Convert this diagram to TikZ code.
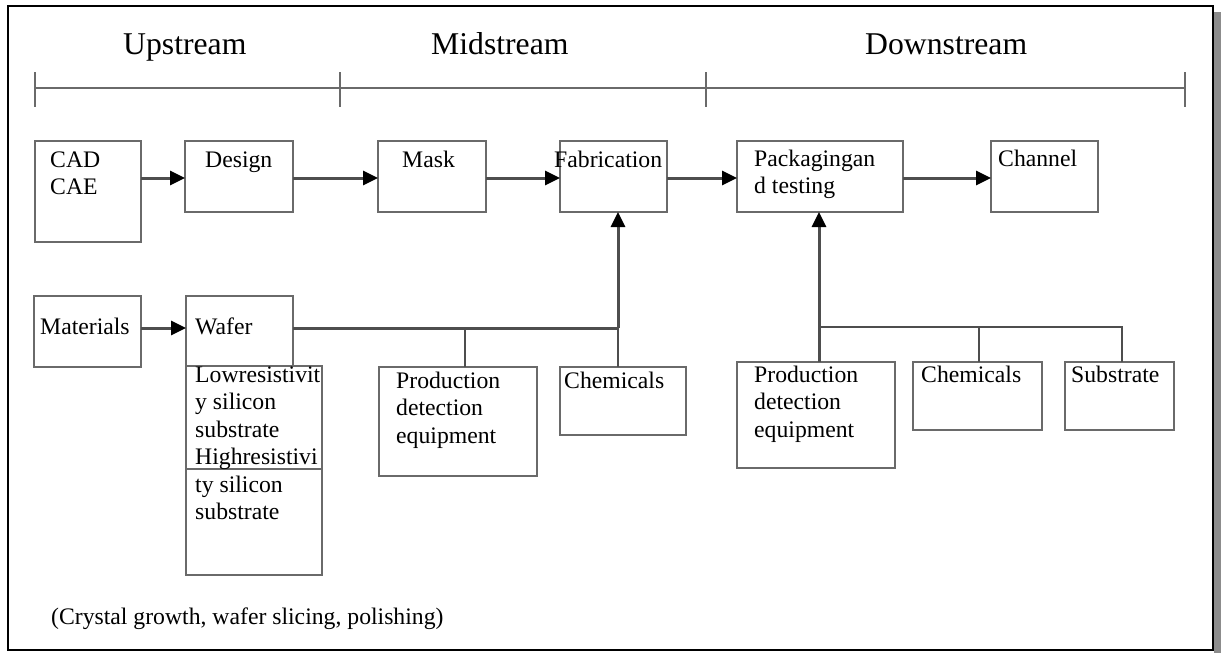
\documentclass[tikz,border=0pt]{standalone}
\usepackage{fontspec}
\setmainfont{Liberation Serif}
\usetikzlibrary{arrows.meta}
\definecolor{boxgray}{HTML}{6A6A6A}
\definecolor{linegray}{HTML}{4E4E4E}
\definecolor{shadowgray}{HTML}{8C8C8C}
\newcommand\lines[1]{\vtop{\halign{##\hfil\cr#1\crcr}}}
\begin{document}
\begin{tikzpicture}[x=1pt,y=-1pt,
  box/.style={draw=boxgray,line width=2.6pt,rectangle,inner sep=0pt,outer sep=0pt,anchor=north west},
  txt/.style={inner sep=0pt,anchor=base west,font=\fontsize{23.7}{27.5}\selectfont},
  head/.style={inner sep=0pt,anchor=base west,font=\fontsize{31.7}{36}\selectfont},
  conn/.style={draw=linegray,line width=3pt},
  arr/.style={conn,-{Triangle[length=15pt,width=14pt,color=black]}},
  axis/.style={draw=boxgray,line width=2.6pt}]
\useasboundingbox (0,0) rectangle (1221,653);
% frame and shadow
\fill[shadowgray] (1214,12) rectangle (1221,653);
\draw[black,line width=2.5pt] (8,6) rectangle (1213,650);
% headings
\node[head] (hup) at (123,54) {Upstream};
\node[head] (hmid) at (431,54) {Midstream};
\node[head] (hdown) at (865,54) {Downstream};
% timeline
\coordinate (t0) at (35,88);
\coordinate (t1) at (340,88);
\coordinate (t2) at (706,88);
\coordinate (t3) at (1185,88);
\draw[axis] (t0) -- (t3);
\foreach \t in {t0,t1,t2,t3}{\draw[axis] ([yshift=16pt]\t) -- ([yshift=-19pt]\t);}
% boxes row 1
\node[box,minimum width=106pt,minimum height=101pt] (cad) at (35,141) {};
\node[box,minimum width=108pt,minimum height=71pt] (design) at (185,141) {};
\node[box,minimum width=108pt,minimum height=71pt] (mask) at (378,141) {};
\node[box,minimum width=107pt,minimum height=71pt] (fab) at (560,141) {};
\node[box,minimum width=166pt,minimum height=71pt] (pack) at (737,141) {};
\node[box,minimum width=107pt,minimum height=71pt] (chan) at (991,141) {};
% row 2
\node[box,minimum width=107pt,minimum height=71pt] (mat) at (34,296) {};
\node[box,minimum width=107pt,minimum height=70pt] (wafer) at (186,296) {};
\node[box,minimum width=136pt,minimum height=209pt] (sub) at (186,366) {};
\coordinate (divl) at (186,469);
\coordinate (divr) at (322,469);
\draw[draw=boxgray,line width=2.6pt] (divl) -- (divr);
\node[box,minimum width=158pt,minimum height=109pt] (prodm) at (379,367) {};
\node[box,minimum width=126pt,minimum height=68pt] (chemm) at (560,367) {};
\node[box,minimum width=158pt,minimum height=106pt] (prodd) at (737,362) {};
\node[box,minimum width=129pt,minimum height=68pt] (chemd) at (913,362) {};
\node[box,minimum width=109pt,minimum height=68pt] (subs) at (1065,362) {};
% texts
\node[txt] (cadT) at (50,167) {\lines{CAD\cr CAE}};
\node[txt] (designT) at (205,167) {Design};
\node[txt] (maskT) at (402,167) {Mask};
\node[txt] (fabT) at (554,167) {Fabrication};
\node[txt] (packT) at (754,166) {\lines{Packagingan\cr d testing}};
\node[txt] (chanT) at (998,166) {Channel};
\node[txt] (matT) at (40,334) {Materials};
\node[txt] (waferT) at (195,334) {Wafer};
\node[txt] (subT) at (195,382) {\lines{Lowresistivit\cr y silicon\cr substrate\cr Highresistivi\cr ty silicon\cr substrate}};
\node[txt] (prodmT) at (396,388) {\lines{Production\cr detection\cr equipment}};
\node[txt] (chemmT) at (564,388) {Chemicals};
\node[txt] (proddT) at (754,382) {\lines{Production\cr detection\cr equipment}};
\node[txt] (chemdT) at (921,382) {Chemicals};
\node[txt] (subsT) at (1071,382) {Substrate};
\node[txt] (note) at (51,624) {(Crystal growth, wafer slicing, polishing)};
% connectors row 1
\coordinate (r1) at (0,178);
\draw[arr] (cad.east |- r1) -- (design.west |- r1);
\draw[arr] (design.east |- r1) -- (mask.west |- r1);
\draw[arr] (mask.east |- r1) -- (fab.west |- r1);
\draw[arr] (fab.east |- r1) -- (pack.west |- r1);
\draw[arr] (pack.east |- r1) -- (chan.west |- r1);
% connectors row 2
\coordinate (r2) at (0,328);
\draw[arr] (mat.east |- r2) -- (wafer.west |- r2);
\coordinate (j1) at (618,328);
\coordinate (b1) at (465,328);
\draw[conn] (wafer.east |- j1) -- (j1);
\draw[arr] (j1) -- (j1 |- fab.south);
\draw[conn,line width=2.4pt] (b1) -- (b1 |- prodm.north);
\draw[conn,line width=2.4pt] (j1) -- (j1 |- chemm.north);
% downstream
\coordinate (j2) at (819,327);
\coordinate (b2) at (979,327);
\coordinate (e2) at (1122,327);
\draw[arr] (j2 |- prodd.north) -- (j2 |- pack.south);
\draw[conn,line width=2.6pt] (j2) -- (e2) -- (e2 |- subs.north);
\draw[conn,line width=2.4pt] (b2) -- (b2 |- chemd.north);
\end{tikzpicture}
\end{document}
